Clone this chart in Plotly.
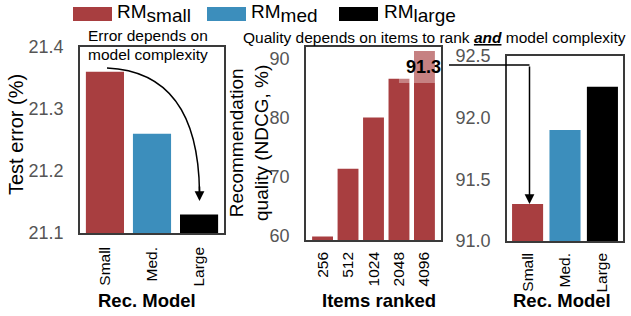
import plotly.graph_objects as go

W, H = 631, 316

# ---- data ----
models = ["Small", "Med.", "Large"]
model_colors = ["#A83E40", "#3C8EBC", "#000000"]
legend_subs = ["small", "med", "large"]
test_error = [21.36, 21.26, 21.13]

items = ["256", "512", "1024", "2048", "4096"]
ndcg_small = [59.8, 71.3, 80.0, 86.6, 91.3]

ndcg_4096 = [91.3, 91.9, 92.25]

err_ticks = [21.1, 21.2, 21.3, 21.4]
ndcg_ticks = [60, 70, 80, 90]
ndcg4096_ticks = [91.0, 91.5, 92.0, 92.5]


def px(x):
    return x / W


def py(y):
    return 1 - y / H


FONT = "Liberation Sans"
tickfont_y = dict(family=FONT, size=18, color="#555555")
tickfont_x = dict(family=FONT, size=15.5, color="#000000")
frame = dict(showline=True, mirror=True, linecolor="#3a3a3a", linewidth=1.5,
             ticks="", showgrid=False, zeroline=False, automargin=False)

fig = go.Figure()
fig.add_trace(go.Bar(x=models, y=test_error, marker_color=model_colors, marker_line_width=0,
                     width=0.81, xaxis="x", yaxis="y", showlegend=False))
fig.add_trace(go.Bar(x=items, y=ndcg_small, marker_color=model_colors[0], marker_line_width=0,
                     width=0.82, xaxis="x2", yaxis="y2", showlegend=False))
fig.add_trace(go.Bar(x=models, y=ndcg_4096, marker_color=model_colors, marker_line_width=0,
                     width=0.83, xaxis="x3", yaxis="y3", showlegend=False))

fig.update_layout(
    width=W, height=H, margin=dict(l=0, r=0, t=0, b=0, pad=0), autosize=False,
    plot_bgcolor="white", paper_bgcolor="white",
    font=dict(family=FONT, color="#000"),
    xaxis=dict(domain=[px(80), px(224)], range=[-0.53, 2.53], type="category", anchor="y",
               tickangle=-90, tickfont=tickfont_x, ticklabelstandoff=6, **frame),
    yaxis=dict(domain=[py(233), py(47)], range=[21.1, 21.4], anchor="x",
               tickvals=err_ticks, tickformat=".1f", tickfont=tickfont_y,
               ticklabelstandoff=11, **frame),
    xaxis2=dict(domain=[px(306), px(441)], range=[-0.65, 4.65], type="category", anchor="y2",
                tickangle=-90, tickfont=tickfont_x, ticklabelstandoff=4, **frame),
    yaxis2=dict(domain=[py(240), py(47)], range=[59.2, 92], anchor="x2",
                tickvals=ndcg_ticks, tickfont=tickfont_y, ticklabelstandoff=11, **frame),
    xaxis3=dict(domain=[px(507), px(623)], range=[-0.55, 2.55], type="category", anchor="y3",
                tickangle=-90, tickfont=tickfont_x, ticklabelstandoff=4, **frame),
    yaxis3=dict(domain=[py(241), py(56)], range=[91.0, 92.5], anchor="x3",
                tickvals=ndcg4096_ticks, tickformat=".1f", tickfont=tickfont_y,
                ticklabelstandoff=11, **frame),
)

shapes = []
# highlight on the 4096 bar region
shapes.append(dict(type="rect", xref="x2", yref="y2", x0=3.0, x1=4.65, y0=85.9, y1=92,
                   fillcolor="rgba(255,255,255,0.35)", line=dict(width=0), layer="above"))
# connector line from 91.3 label
shapes.append(dict(type="line", xref="paper", yref="paper", x0=px(449), x1=px(529.5),
                   y0=py(65), y1=py(65), line=dict(color="#000", width=1.5)))
# curved arrow in panel 1
shapes.append(dict(type="path", xref="paper", yref="paper",
                   path=f"M {px(107)},{py(68)} Q {px(198)},{py(72)} {px(199.5)},{py(192)}",
                   line=dict(color="#000", width=1.5)))
# legend swatches
for x0, c in zip([73, 207, 339], model_colors):
    shapes.append(dict(type="rect", xref="paper", yref="paper", x0=px(x0), x1=px(x0 + 39),
                       y0=py(21), y1=py(7), fillcolor=c, line=dict(width=0)))
fig.update_layout(shapes=shapes)


def note(x, y, text, size, xanchor="center", yanchor="middle", **kw):
    return dict(xref="paper", yref="paper", x=px(x), y=py(y), text=text, showarrow=False,
                xanchor=xanchor, yanchor=yanchor, font=dict(size=size, color="#000"), **kw)


ann = []
for xt, s in zip([115, 249, 382], legend_subs):
    ann.append(note(xt, -1, f"RM<sub><span style='font-size:19px'>{s}</span></sub>", 19,
                    xanchor="left", yanchor="top"))
ann.append(note(148, 36, "Error depends on", 15.5))
ann.append(note(148, 54, "model complexity", 15.5))
ann.append(note(435, 38, "Quality depends on items to rank "
                "<b><i><span style='text-decoration:underline'>and</span></i></b> model complexity", 15.5))
ann.append(note(443, 67, "<b>91.3</b>", 18, xanchor="right"))
# arrow heads
ann.append(dict(xref="paper", yref="paper", x=px(199.5), y=py(201), ax=0, ay=-16, text="",
                showarrow=True, arrowhead=2, arrowsize=1.3, arrowwidth=1.5, arrowcolor="#000"))
ann.append(dict(xref="paper", yref="y3", x=px(529.5), y=ndcg_4096[0], ax=0, ay=-139, text="",
                showarrow=True, arrowhead=2, arrowsize=1.3, arrowwidth=1.5, arrowcolor="#000"))
# axis titles
ann.append(note(16, 135, "Test error (%)", 20, textangle=-90))
ann.append(note(249, 143, "Recommendation<br>quality (NDCG, %)", 19, textangle=-90))
ann.append(note(147, 300, "<b>Rec. Model</b>", 18.5))
ann.append(note(379, 300, "<b>Items ranked</b>", 18.5))
ann.append(note(562, 300, "<b>Rec. Model</b>", 18.5))
fig.update_layout(annotations=ann)

fig.write_html("out.html", config={"displayModeBar": False},
               post_script="document.body.style.margin='0';document.body.style.overflow='hidden';")
